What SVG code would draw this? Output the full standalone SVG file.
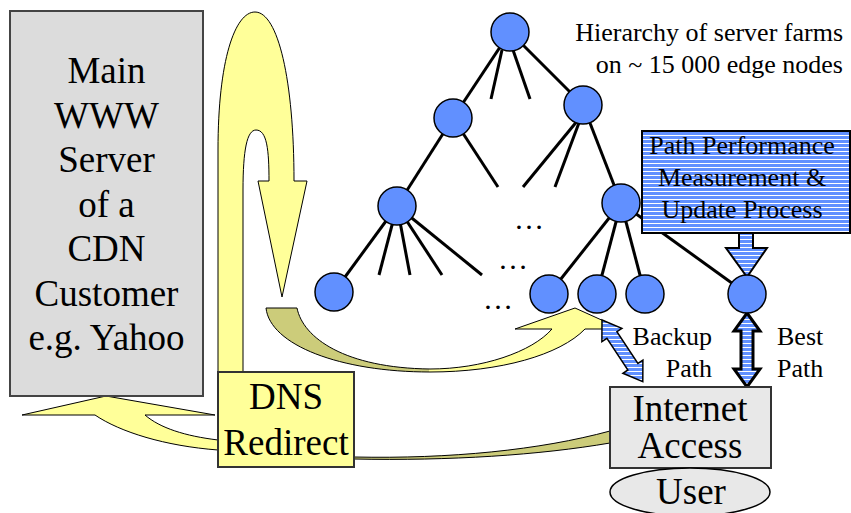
<svg xmlns="http://www.w3.org/2000/svg" width="851" height="513" viewBox="0 0 851 513">
<defs>
<pattern id="stripes" patternUnits="userSpaceOnUse" width="8" height="4">
<rect width="8" height="4" fill="#6190ff"/>
<rect y="3" width="8" height="1" fill="#ffffff"/>
</pattern>
<linearGradient id="oliveYellow" gradientUnits="userSpaceOnUse" x1="266" y1="0" x2="606" y2="0">
<stop offset="0" stop-color="#cccc7a"/>
<stop offset="0.48" stop-color="#cccc7a"/>
<stop offset="0.48" stop-color="#ffff99"/>
<stop offset="1" stop-color="#ffff99"/>
</linearGradient>
</defs>
<style>
text{font-family:'Liberation Serif','Times New Roman','DejaVu Serif',serif}
.big{font-size:37px;fill:#000;text-anchor:middle}
.sm{font-size:26px;fill:#000}
.yel{fill:#ffff99;stroke:#000;stroke-width:1}
.edge{stroke:#000;stroke-width:3;fill:none}
.node{fill:#6190ff;stroke:#000;stroke-width:1.5}
.dots{font-size:30px;fill:#000;text-anchor:middle}
.striped{fill:url(#stripes);stroke:#000}
</style>
<rect width="851" height="513" fill="#ffffff"/>

<g id="connectors">
<path class="yel" d="M218,372 L218,150 C218,60 235,12 255,12 C278,12 294,80 294,181 L307,181 L282,297 L258,181 L269,181 C269,150 267,130 256,130 C247,130 243,150 243,190 L243,372 Z"/>
<path class="yel" d="M106,396 L215,415 L145,415 C160,428 185,436 218,440 L218,450 C165,446 120,432 95,415 L22,415 Z"/>
<path fill="url(#oliveYellow)" stroke="#000" stroke-width="1" d="M266,308 L297,308 C303,338 345,368 430,369 C482,369 532,352 552,329 L515,329 L575,308 L606,322 L606,329 L585,329 C560,355 500,372 430,372 C340,372 270,345 266,308 Z"/>
<path fill="#cccc7a" stroke="#000" stroke-width="1" d="M354,457 C450,459 540,450 610,431 L610,443 C540,455 450,461 354,459 Z"/>
<line class="edge" x1="510" y1="32" x2="453" y2="118"/>
<line class="edge" x1="502" y1="50" x2="491" y2="99"/>
<line class="edge" x1="513" y1="50" x2="530" y2="99"/>
<line class="edge" x1="510" y1="32" x2="583" y2="105"/>
<line class="edge" x1="453" y1="118" x2="397" y2="206"/>
<line class="edge" x1="453" y1="118" x2="498" y2="187"/>
<line class="edge" x1="578" y1="120" x2="523" y2="187"/>
<line class="edge" x1="580" y1="120" x2="555" y2="187"/>
<line class="edge" x1="583" y1="105" x2="621" y2="203"/>
<line class="edge" x1="397" y1="206" x2="334" y2="292"/>
<line class="edge" x1="397" y1="206" x2="379" y2="275"/>
<line class="edge" x1="397" y1="206" x2="410" y2="275"/>
<line class="edge" x1="397" y1="206" x2="442" y2="275"/>
<line class="edge" x1="397" y1="206" x2="482" y2="275"/>
<line class="edge" x1="621" y1="203" x2="549" y2="294"/>
<line class="edge" x1="621" y1="203" x2="597" y2="294"/>
<line class="edge" x1="621" y1="203" x2="645" y2="294"/>
<line class="edge" x1="621" y1="203" x2="747" y2="294"/>
<path class="striped" stroke-width="2" d="M739,232 L753,232 L753,248 L767,248 L747,277 L726,248 L739,248 Z"/>
<path class="striped" stroke-width="3" d="M747,313 L760,331 L753,331 L753,369 L760,369 L747,387 L734,369 L741,369 L741,331 L734,331 Z"/>
<path class="striped" stroke-width="1.5" d="M602,320 L621.9,328.4 L616.9,331.7 L637.9,363.4 L642.9,360.1 L642.8,381.7 L622.9,373.3 L627.9,370 L606.9,338.3 L601.9,341.6 Z"/>
</g>

<g id="main-server">
<rect x="10" y="11" width="193" height="385" fill="#dcdcdc" stroke="#444" stroke-width="2"/>
<text class="big" x="106.5" y="83">Main</text>
<text class="big" x="106.5" y="128">WWW</text>
<text class="big" x="106.5" y="172">Server</text>
<text class="big" x="106.5" y="217">of a</text>
<text class="big" x="106.5" y="261">CDN</text>
<text class="big" x="106.5" y="306">Customer</text>
<text class="big" x="106.5" y="350">e.g. Yahoo</text>
</g>

<g id="dns-redirect">
<rect x="218" y="372" width="136" height="95" fill="#ffff99" stroke="#333" stroke-width="2"/>
<text class="big" x="286" y="409">DNS</text>
<text class="big" x="286" y="455">Redirect</text>
</g>

<g id="internet-access">
<rect x="610" y="387" width="161" height="81" fill="#e8e8e8" stroke="#333" stroke-width="2"/>
<text class="big" x="690" y="421">Internet</text>
<text class="big" x="690" y="458">Access</text>
</g>

<g id="user">
<ellipse cx="690" cy="492" rx="80" ry="24" fill="#e8e8e8" stroke="#000" stroke-width="1.5"/>
<text class="big" x="691" y="504">User</text>
</g>

<g id="path-performance">
<rect x="642" y="131" width="208" height="102" class="striped" stroke-width="2"/>
<text class="sm" x="742" y="154" text-anchor="middle">Path Performance</text>
<text class="sm" x="742" y="186" text-anchor="middle">Measurement &amp;</text>
<text class="sm" x="742" y="218" text-anchor="middle">Update Process</text>
</g>

<g id="hierarchy-label">
<text class="sm" x="843" y="41" text-anchor="end">Hierarchy of server farms</text>
<text class="sm" x="843" y="73" text-anchor="end">on ~ 15 000 edge nodes</text>
</g>

<g id="path-labels">
<text class="sm" x="712" y="345" text-anchor="end">Backup</text>
<text class="sm" x="712" y="377" text-anchor="end">Path</text>
<text class="sm" x="777" y="345">Best</text>
<text class="sm" x="777" y="377">Path</text>
</g>

<g id="tree-nodes">
<circle class="node" cx="510" cy="32" r="19"/>
<circle class="node" cx="453" cy="118" r="19"/>
<circle class="node" cx="583" cy="105" r="19"/>
<circle class="node" cx="397" cy="206" r="19"/>
<circle class="node" cx="621" cy="203" r="19"/>
<circle class="node" cx="334" cy="292" r="19"/>
<circle class="node" cx="549" cy="294" r="19"/>
<circle class="node" cx="597" cy="294" r="19"/>
<circle class="node" cx="645" cy="294" r="19"/>
<circle class="node" cx="747" cy="294" r="19"/>
<text class="dots" x="529" y="229">…</text>
<text class="dots" x="513" y="269">…</text>
<text class="dots" x="498" y="309">…</text>
</g>
</svg>
